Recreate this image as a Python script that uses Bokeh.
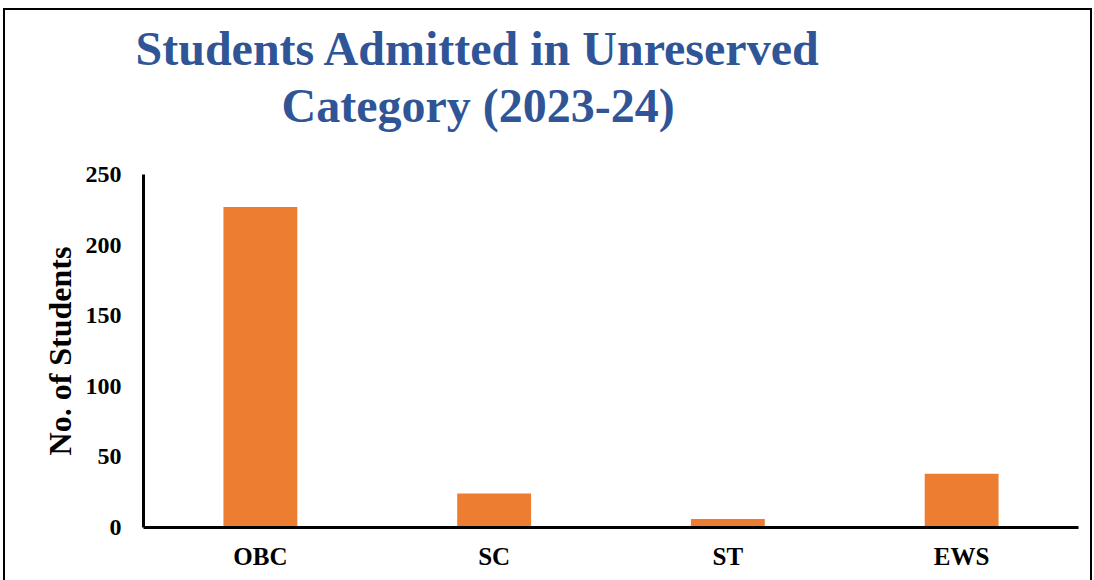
from bokeh.plotting import figure
from bokeh.models import Title, SingleIntervalTicker, Range1d, FactorRange
from bokeh.embed import file_html
from bokeh.resources import INLINE

categories = ["OBC", "SC", "ST", "EWS"]
students = [227, 24, 6, 38]
title_lines = ["Students Admitted in Unreserved", "Category (2023-24)"]
y_label = "No. of Students"

FONT = "Liberation Serif"

p = figure(
    x_range=FactorRange(*categories, range_padding=0),
    y_range=Range1d(0, 250),
    width=1085, height=570,
    output_backend="svg", toolbar_location=None,
    min_border_left=138, min_border_right=12,
    min_border_top=164, min_border_bottom=53,
)
p.margin = (10, 0, 0, 5)
p.styles = {"outline": "2px solid #000000"}
p.outline_line_color = None
p.xgrid.grid_line_color = None
p.ygrid.grid_line_color = None

p.vbar(x=categories, top=students, width=0.316, color="#ED7D31", line_color=None)

for ax in (p.xaxis[0], p.yaxis[0]):
    ax.axis_line_color = "#000000"
    ax.axis_line_width = 3
    ax.major_tick_line_color = None
    ax.minor_tick_line_color = None
    ax.major_tick_out = 0
    ax.major_tick_in = 0
    ax.major_label_text_font = FONT
    ax.major_label_text_font_style = "bold"
    ax.major_label_text_color = "#000000"

p.yaxis.ticker = SingleIntervalTicker(interval=50)
p.yaxis.major_label_text_font_size = "24px"
p.yaxis.major_label_standoff = 18
p.yaxis.axis_label = y_label
p.yaxis.axis_label_text_font = FONT
p.yaxis.axis_label_text_font_style = "bold"
p.yaxis.axis_label_text_font_size = "32px"
p.yaxis.axis_label_text_color = "#000000"
p.yaxis.axis_label_standoff = 5

p.xaxis.major_label_text_font_size = "25px"
p.xaxis.major_label_standoff = 15

# titles stack outward from the frame: spacer, second line, first line
p.add_layout(Title(text=" ", text_font_size="1px", standoff=40), "above")
for txt, off, so in zip(title_lines[::-1], [138, -8], [0, 4]):
    p.add_layout(Title(
        text=txt, align="left", offset=off, standoff=so, vertical_align="bottom",
        text_font=FONT, text_font_style="bold", text_font_size="48px",
        text_color="#2F5597",
    ), "above")

open("out.html", "w").write(file_html(p, INLINE))
